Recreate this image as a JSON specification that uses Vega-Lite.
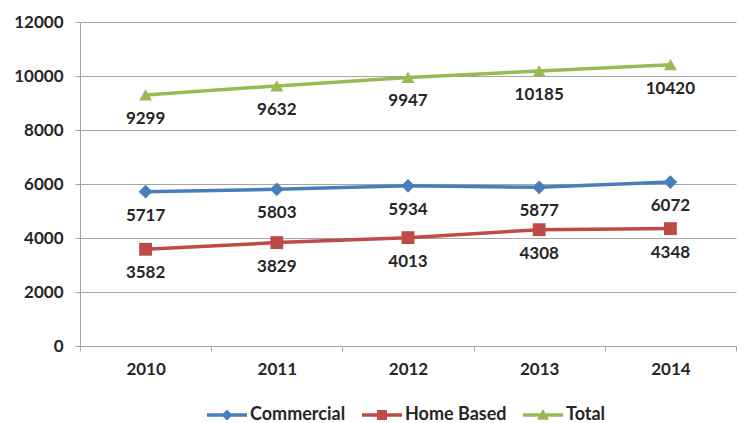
{
  "$schema": "https://vega.github.io/schema/vega-lite/v6.json",
  "width": 656,
  "height": 324,
  "autosize": {"type": "none"},
  "padding": {"left": 80, "top": 22, "right": 5, "bottom": 77},
  "background": "white",
  "config": {
    "view": {"stroke": null},
    "font": "Lato",
    "axis": {"labelFont": "Lato", "labelFontWeight": "bold", "labelFontSize": 17, "labelColor": "#262626", "domainColor": "#A6A6A6", "tickColor": "#A6A6A6", "gridColor": "#A6A6A6", "domainWidth": 1, "tickWidth": 1, "gridWidth": 1}
  },
  "data": {
    "values": [
      {"year": "2010", "series": "Commercial", "value": 5717},
      {"year": "2011", "series": "Commercial", "value": 5803},
      {"year": "2012", "series": "Commercial", "value": 5934},
      {"year": "2013", "series": "Commercial", "value": 5877},
      {"year": "2014", "series": "Commercial", "value": 6072},
      {"year": "2010", "series": "Home Based", "value": 3582},
      {"year": "2011", "series": "Home Based", "value": 3829},
      {"year": "2012", "series": "Home Based", "value": 4013},
      {"year": "2013", "series": "Home Based", "value": 4308},
      {"year": "2014", "series": "Home Based", "value": 4348},
      {"year": "2010", "series": "Total", "value": 9299},
      {"year": "2011", "series": "Total", "value": 9632},
      {"year": "2012", "series": "Total", "value": 9947},
      {"year": "2013", "series": "Total", "value": 10185},
      {"year": "2014", "series": "Total", "value": 10420}
    ]
  },
  "encoding": {
    "x": {"field": "year", "type": "ordinal", "title": null,
      "scale": {"paddingInner": 0, "paddingOuter": 0},
      "axis": {"labelAngle": 0, "tickBand": "extent", "tickSize": 5, "labelPadding": 10, "grid": false}},
    "y": {"field": "value", "type": "quantitative", "title": null,
      "scale": {"domain": [0, 12000], "nice": false},
      "axis": {"values": [0, 2000, 4000, 6000, 8000, 10000, 12000], "format": "d", "tickSize": 5, "labelPadding": 12, "grid": true, "labelFlush": false}},
    "color": {"field": "series", "type": "nominal",
      "scale": {"domain": ["Commercial", "Home Based", "Total"], "range": ["#4A7EBB", "#BE4B48", "#98B954"]},
      "legend": {
        "orient": "none", "legendX": 127, "legendY": 373, "direction": "horizontal", "title": null,
        "symbolSize": 1600, "labelFont": "Lato", "labelFontWeight": "bold", "labelFontSize": 18, "labelColor": "#262626",
        "labelOffset": 3, "columnPadding": 16, "padding": 0,
        "encode": {"symbols": {"update": {
          "shape": {"signal": "datum.value === 'Commercial' ? 'M-1,-0.09L1,-0.09L1,0.09L-1,0.09Z M0,-0.28L0.28,0L0,0.28L-0.28,0Z' : datum.value === 'Home Based' ? 'M-1,-0.09L1,-0.09L1,0.09L-1,0.09Z M-0.25,-0.25L0.25,-0.25L0.25,0.25L-0.25,0.25Z' : 'M-1,-0.09L1,-0.09L1,0.09L-1,0.09Z M0,-0.3L0.3,0.24L-0.3,0.24Z'"},
          "fill": {"signal": "scale('color', datum.value)"},
          "fillOpacity": {"value": 1},
          "opacity": {"value": 1},
          "strokeWidth": {"value": 0}
        }}}
      }
    }
  },
  "layer": [
    {
      "mark": {"type": "line", "strokeWidth": 3.5}
    },
    {
      "transform": [{"filter": "datum.series === 'Commercial'"}],
      "mark": {"type": "point", "filled": true, "opacity": 1, "size": 190, "shape": "diamond"}
    },
    {
      "transform": [{"filter": "datum.series === 'Home Based'"}],
      "mark": {"type": "point", "filled": true, "opacity": 1, "size": 165, "shape": "square"}
    },
    {
      "transform": [{"filter": "datum.series === 'Total'"}],
      "mark": {"type": "point", "filled": true, "opacity": 1, "size": 170, "shape": "triangle-up"}
    },
    {
      "mark": {"type": "text", "font": "Lato", "fontWeight": "bold", "fontSize": 17, "baseline": "middle", "dy": 24},
      "encoding": {"text": {"field": "value", "type": "quantitative", "format": "d"}, "color": {"value": "#262626"}}
    }
  ]
}
